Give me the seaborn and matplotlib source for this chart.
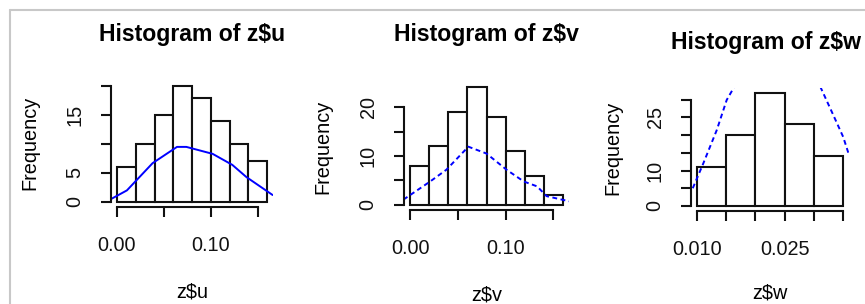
import numpy as np
import pandas as pd
import matplotlib
matplotlib.use("Agg")
import matplotlib.pyplot as plt
from matplotlib.lines import Line2D
import seaborn as sns

sns.set_style("white")
plt.rcParams['font.family'] = ['Liberation Sans', 'DejaVu Sans']
plt.rcParams['text.color'] = 'black'
plt.rcParams['axes.labelcolor'] = 'black'
plt.rcParams['xtick.color'] = 'black'
plt.rcParams['ytick.color'] = 'black'

# ---------------- data ----------------
u_edges = [0.00, 0.02, 0.04, 0.06, 0.08, 0.10, 0.12, 0.14, 0.16]
u_counts = [6, 10, 15, 20, 18, 14, 10, 7]
u_curve_x = [-0.0064, 0.0106, 0.038, 0.064, 0.074, 0.102, 0.123, 0.138, 0.166]
u_curve_y = [0.5, 2.0, 6.7, 9.5, 9.5, 8.3, 6.4, 4.3, 1.2]

v_edges = [0.00, 0.02, 0.04, 0.06, 0.08, 0.10, 0.12, 0.14, 0.16]
v_counts = [8, 12, 19, 24, 18, 11, 6, 2]
v_curve_x = [-0.007, 0.021, 0.038, 0.061, 0.080, 0.101, 0.119, 0.133, 0.143, 0.168]
v_curve_y = [1.1, 4.8, 7.2, 11.9, 10.5, 7.2, 4.8, 3.8, 1.8, 0.7]

w_edges = [0.010, 0.015, 0.020, 0.025, 0.030, 0.035]
w_counts = [11, 20, 32, 23, 14]
w_curve_left_x = [0.0093, 0.0111, 0.0134, 0.0151, 0.01625, 0.0170]
w_curve_left_y = [5.0, 12.0, 21.4, 29.9, 33.2, 35.4]
w_curve_right_x = [0.0305, 0.0313, 0.0333, 0.0350, 0.0360]
w_curve_right_y = [35.8, 32.9, 25.7, 19.5, 14.4]

titles = ["Histogram of z$u", "Histogram of z$v", "Histogram of z$w"]
xlabels = ["z$u", "z$v", "z$w"]
ylabel = "Frequency"

u_xticks = [0.00, 0.05, 0.10, 0.15]
u_xticklabels = ["0.00", "", "0.10", ""]
u_yticks = [0, 5, 10, 15, 20]
u_yticklabels = ["0", "5", "", "15", ""]
v_xticks = [0.00, 0.05, 0.10, 0.15]
v_xticklabels = ["0.00", "", "0.10", ""]
v_yticks = [0, 5, 10, 15, 20]
v_yticklabels = ["0", "", "10", "", "20"]
w_xticks = [0.010, 0.015, 0.020, 0.025, 0.030, 0.035]
w_xticklabels = ["0.010", "", "", "0.025", "", ""]
w_yticks = [0, 5, 10, 15, 20, 25, 30]
w_yticklabels = ["0", "", "10", "", "", "25", ""]

# ---------------- layout ----------------
W, H = 865, 304
fig = plt.figure(figsize=(W / 100, H / 100), dpi=100)
fig.patch.set_facecolor("white")

# pixel boxes (left, right, top, bottom) of plot regions
boxes = [(111, 273, 81.4, 206.6), (404, 569, 82.7, 209.7), (691, 849, 88.0, 210.5)]
title_x = [192, 486, 766]
title_y = [35, 35, 42]
xlabel_y = [292, 295, 293]
ylabel_x = [30, 323, 613]
ylabel_y = [143, 147, 148]

FS = 14.3
TFS = 16.6

def margin_lim(lo, hi):
    d = (hi - lo) * 0.04
    return lo - d, hi + d

panels = [
    (u_edges, u_counts, [(u_curve_x, u_curve_y)], "-", u_xticks, u_xticklabels, u_yticks, u_yticklabels),
    (v_edges, v_counts, [(v_curve_x, v_curve_y)], "--", v_xticks, v_xticklabels, v_yticks, v_yticklabels),
    (w_edges, w_counts, [(w_curve_left_x, w_curve_left_y), (w_curve_right_x, w_curve_right_y)], "--",
     w_xticks, w_xticklabels, w_yticks, w_yticklabels),
]

for i, (edges, counts, curves, ls, xt, xtl, yt, ytl) in enumerate(panels):
    l, r, t, b = boxes[i]
    ax = fig.add_axes([l / W, 1 - b / H, (r - l) / W, (b - t) / H])
    ax.set_facecolor("none")
    centers = [(edges[k] + edges[k + 1]) / 2 for k in range(len(counts))]
    df = pd.DataFrame({"x": centers, "w": counts})
    sns.histplot(data=df, x="x", weights="w", bins=list(edges), ax=ax,
                 color="white", edgecolor="#111111", linewidth=1.5, alpha=1)
    for cx, cy in curves:
        cdf = pd.DataFrame({"x": cx, "y": cy})
        sns.lineplot(data=cdf, x="x", y="y", ax=ax, color="blue",
                     estimator=None, sort=False, linewidth=1.4)
        if ls == "--":
            ax.lines[-1].set_dashes((2.5, 1.8))
    ax.set_xlim(*margin_lim(edges[0], edges[-1]))
    ax.set_ylim(*margin_lim(0, max(counts)))
    ax.set_xticks(xt)
    ax.set_xticklabels(xtl)
    ax.set_yticks(yt)
    ax.set_yticklabels(ytl, rotation=90, va="center")
    for s in ["top", "right"]:
        ax.spines[s].set_visible(False)
    for s in ["left", "bottom"]:
        ax.spines[s].set_linewidth(1.5)
        ax.spines[s].set_color("#111111")
    ax.spines["bottom"].set_bounds(xt[0], xt[-1])
    ax.spines["left"].set_bounds(yt[0], yt[-1])
    ax.tick_params(axis="both", direction="out", length=7.5, width=1.5,
                   labelsize=FS, colors="#111111", bottom=True, left=True)
    ax.tick_params(axis="x", pad=13.5)
    ax.tick_params(axis="y", pad=11.5)
    ax.set_xlabel(xlabels[i], fontsize=FS, va="center")
    ax.xaxis.set_label_coords(0.5, (b - xlabel_y[i]) / (b - t))
    ax.set_ylabel(ylabel, fontsize=FS, va="center")
    ax.yaxis.set_label_coords((ylabel_x[i] - l) / (r - l), (b - ylabel_y[i]) / (b - t))
    ttl = ax.set_title(titles[i], fontsize=TFS, fontweight="bold", pad=0,
                       y=(b - title_y[i]) / (b - t), va="center")
    ttl.set_x((title_x[i] - l) / (r - l))

# screenshot frame
fig.add_artist(Line2D([9.5 / W, 1], [1 - 10 / H, 1 - 10 / H], color="#c8c8c8", lw=1.5))
fig.add_artist(Line2D([10 / W, 10 / W], [0, 1 - 10 / H], color="#c8c8c8", lw=1.5))

fig.savefig("out.png", dpi=100, facecolor="white")
